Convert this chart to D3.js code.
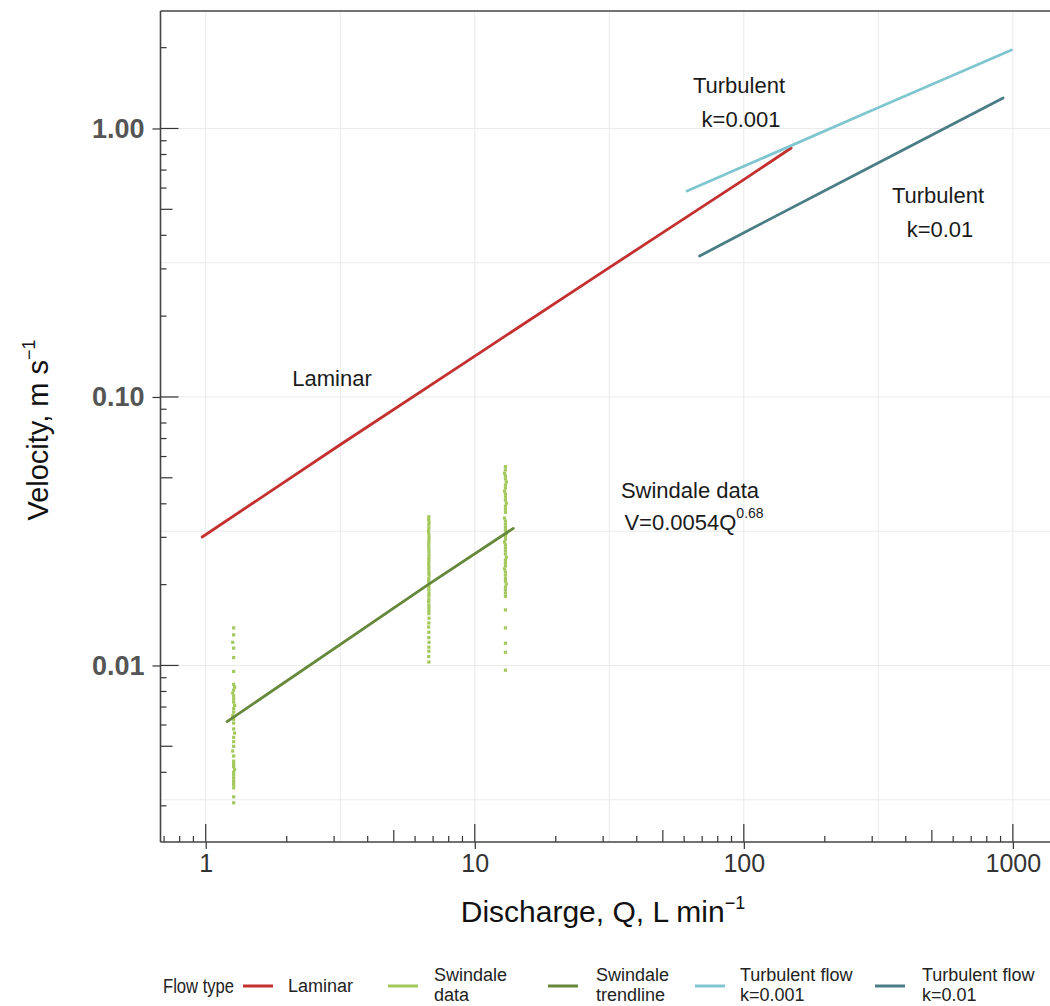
<!DOCTYPE html>
<html><head><meta charset="utf-8">
<script src="https://cdn.jsdelivr.net/npm/d3@7"></script>
<style>body{margin:0;background:#fff}svg{display:block}text{font-family:"Liberation Sans",Arial,sans-serif}</style>
</head><body><svg id="c" width="1050" height="1006"></svg>
<script>
// ---- data ----
const laminarQ = [0.97, 3.16, 10, 30, 45, 100, 150];
const laminarV = [0.0301, 0.0664, 0.142, 0.293, 0.382, 0.645, 0.846];
const turb001Q = [61.5, 100, 300, 988];
const turb001V = [0.585, 0.723, 1.17, 1.96];
const turb01Q = [68.5, 100, 300, 920];
const turb01V = [0.335, 0.409, 0.725, 1.30];
const trendQ = [1.2, 6.75, 13.9];
const trendV = [0.00618, 0.0201, 0.0324];
const swindaleQ1 = [1.27,1.27,1.26,1.27,1.27,1.27,1.27,1.28,1.27,1.26,1.27,1.27,1.27,1.28,1.27,1.27,1.26,1.27,1.27,1.27,1.28,1.27,1.27,1.27,1.26,1.27,1.27,1.27,1.27,1.28,1.27,1.27,1.27,1.27,1.27,1.27,1.27,1.27];
const swindaleV1 = [0.0138,0.0130,0.0122,0.0116,0.0107,0.0095,0.0085,0.0083,0.0081,0.0079,0.0077,0.0075,0.0073,0.0071,0.0069,0.0067,0.0065,0.0063,0.0061,0.0058,0.0056,0.0054,0.0052,0.0050,0.0048,0.0046,0.0044,0.0043,0.0042,0.0041,0.0040,0.0039,0.0038,0.0037,0.0036,0.0035,0.00324,0.00308];
const swindaleQ2 = [6.75,6.74,6.76,6.75,6.75,6.73,6.75,6.76,6.75,6.75,6.74,6.75,6.75,6.76,6.75,6.75,6.74,6.75,6.75,6.75,6.76,6.75,6.74,6.75,6.75,6.75,6.76,6.75,6.75,6.74,6.75,6.75,6.75,6.75,6.76,6.75,6.74,6.75,6.75,6.76,6.75,6.75,6.74,6.75];
const swindaleV2 = [0.0358,0.0350,0.0341,0.0333,0.0324,0.0316,0.0308,0.0300,0.0293,0.0286,0.0279,0.0272,0.0265,0.0258,0.0252,0.0246,0.0240,0.0234,0.0228,0.0222,0.0217,0.0211,0.0206,0.0201,0.0196,0.0191,0.0186,0.0182,0.0177,0.0173,0.0168,0.0164,0.0160,0.0156,0.0150,0.0144,0.0139,0.0133,0.0127,0.0122,0.0117,0.0113,0.0108,0.0103];
const swindaleQ3 = [13.0,13.0,12.9,13.0,13.0,13.1,13.0,13.0,12.9,13.0,13.0,13.0,13.1,13.0,13.0,13.0,12.9,13.0,13.0,13.0,13.0,13.1,13.0,13.0,12.9,13.0,13.0,13.0,13.0,13.1,13.0,13.0,13.0,12.9,13.0,13.0,13.0,13.0,13.1,13.0,13.0,13.0,13.0,13.0,13.0,13.0,13.0,13.0];
const swindaleV3 = [0.0550,0.0535,0.0520,0.0508,0.0495,0.0482,0.0470,0.0458,0.0446,0.0435,0.0424,0.0413,0.0402,0.0392,0.0382,0.0372,0.0354,0.0345,0.0336,0.0327,0.0319,0.0311,0.0303,0.0295,0.0288,0.0281,0.0274,0.0267,0.0260,0.0253,0.0247,0.0241,0.0235,0.0229,0.0223,0.0217,0.0211,0.0206,0.0201,0.0196,0.0191,0.0186,0.0181,0.0161,0.0138,0.0121,0.0112,0.0096];

const xMajor = [1, 10, 100, 1000];
const xMajorLabels = ["1", "10", "100", "1000"];
const xMinorGrid = [3.1623, 31.623, 316.23];
const yMajor = [1, 0.1, 0.01];
const yMajorLabels = ["1.00", "0.10", "0.01"];
const yMinorGrid = [0.31623, 0.031623, 0.0031623];
const logMultipliers = [2, 3, 4, 5, 6, 7, 8, 9];

const seriesNames = ["Laminar", "Swindale data", "Swindale trendline", "Turbulent flow k=0.001", "Turbulent flow k=0.01"];
const seriesColors = ["#c4302f", "#a3c95c", "#66883a", "#80c6d0", "#4b7d86"];

// ---- layout ----
const svg = d3.select("#c");
const L = 160.5, R = 1050.5, T = 11, B = 842;
const x = d3.scaleLog().domain([0.679, 1380]).range([L, R]);
const y = d3.scaleLog().domain([0.0022, 2.739]).range([B, T]);

const clipId = "plotclip";
svg.append("defs").append("clipPath").attr("id", clipId)
  .append("rect").attr("x", L).attr("y", T).attr("width", R - L).attr("height", B - T);

// grid
const grid = svg.append("g").attr("stroke", "#ebebeb").attr("stroke-width", 1.1);
[...xMajor, ...xMinorGrid].forEach(v => {
  grid.append("line").attr("x1", x(v)).attr("x2", x(v)).attr("y1", T).attr("y2", B);
});
[...yMajor, ...yMinorGrid].forEach(v => {
  grid.append("line").attr("y1", y(v)).attr("y2", y(v)).attr("x1", L).attr("x2", R);
});

// log ticks (inside)
const ticks = svg.append("g").attr("stroke", "#333").attr("stroke-width", 1.2);
function logTicks(dom) {
  const out = [];
  for (let e = -4; e <= 4; e++) {
    const base = Math.pow(10, e);
    out.push({v: base, len: 18});
    logMultipliers.forEach(m => out.push({v: m * base, len: m === 5 ? 12 : 6}));
  }
  return out.filter(d => d.v >= dom[0] && d.v <= dom[1]);
}
logTicks(x.domain()).forEach(d => {
  ticks.append("line").attr("x1", x(d.v)).attr("x2", x(d.v)).attr("y1", B).attr("y2", B - d.len);
});
logTicks(y.domain()).forEach(d => {
  ticks.append("line").attr("y1", y(d.v)).attr("y2", y(d.v)).attr("x1", L).attr("x2", L + d.len);
});

// axes
const xAxis = d3.axisBottom(x).tickValues(xMajor).tickSize(7).tickPadding(5)
  .tickFormat((d, i) => xMajorLabels[i]);
const gx = svg.append("g").attr("transform", `translate(0,${B})`).call(xAxis);
gx.select(".domain").remove();
gx.selectAll("line").attr("stroke", "#333").attr("stroke-width", 1.2);
gx.selectAll("text").attr("font-size", 25).attr("fill", "#333").attr("font-family", "Liberation Sans, Arial, sans-serif");

const yAxis = d3.axisLeft(y).tickValues(yMajor).tickSize(8).tickPadding(8)
  .tickFormat((d, i) => yMajorLabels[i]);
const gy = svg.append("g").attr("transform", `translate(${L},0)`).call(yAxis);
gy.select(".domain").remove();
gy.selectAll("line").attr("stroke", "#333").attr("stroke-width", 1.2);
gy.selectAll("text").attr("font-size", 27).attr("font-weight", "bold").attr("fill", "#555").attr("font-family", "Liberation Sans, Arial, sans-serif");

// frame lines
const frame = svg.append("g").attr("stroke", "#444").attr("stroke-width", 1.6);
frame.append("line").attr("x1", L).attr("x2", L).attr("y1", T).attr("y2", B);
frame.append("line").attr("x1", L).attr("x2", R).attr("y1", B).attr("y2", B);
frame.append("line").attr("x1", L).attr("x2", R).attr("y1", T).attr("y2", T);

// data
const plot = svg.append("g").attr("clip-path", `url(#${clipId})`);
const line = d3.line().x(d => x(d[0])).y(d => y(d[1]));
function drawLine(qs, vs, color) {
  plot.append("path").datum(qs.map((q, i) => [q, vs[i]]))
    .attr("d", line).attr("fill", "none").attr("stroke", color).attr("stroke-width", 2.8)
    .attr("stroke-linecap", "round").attr("stroke-linejoin", "round");
}
const sw = [...swindaleQ1.map((q, i) => [q, swindaleV1[i]]),
            ...swindaleQ2.map((q, i) => [q, swindaleV2[i]]),
            ...swindaleQ3.map((q, i) => [q, swindaleV3[i]])];
plot.append("g").selectAll("rect").data(sw).join("rect")
  .attr("x", d => x(d[0]) - 1.6).attr("y", d => y(d[1]) - 1.6)
  .attr("width", 3.2).attr("height", 3.2).attr("fill", seriesColors[1]);
drawLine(trendQ, trendV, seriesColors[2]);
drawLine(laminarQ, laminarV, seriesColors[0]);
drawLine(turb001Q, turb001V, seriesColors[3]);
drawLine(turb01Q, turb01V, seriesColors[4]);

// annotations
const ann = svg.append("g").attr("font-size", 22).attr("fill", "#1a1a1a").attr("text-anchor", "middle");
ann.append("text").attr("x", 739).attr("y", 93).text("Turbulent");
ann.append("text").attr("x", 741).attr("y", 127).text("k=0.001");
ann.append("text").attr("x", 938).attr("y", 203).text("Turbulent");
ann.append("text").attr("x", 940).attr("y", 237).text("k=0.01");
ann.append("text").attr("x", 332).attr("y", 386).text("Laminar");
ann.append("text").attr("x", 690).attr("y", 498).text("Swindale data");
const eq = ann.append("text").attr("x", 694).attr("y", 530);
eq.append("tspan").text("V=0.0054Q");
eq.append("tspan").attr("dy", -12).attr("font-size", 14).text("0.68");

// axis titles
const xt = svg.append("text").attr("x", 603).attr("y", 922).attr("text-anchor", "middle")
  .attr("font-size", 30).attr("fill", "#111");
xt.append("tspan").text("Discharge, Q, L min");
xt.append("tspan").attr("dy", -13).attr("font-size", 18).text("\u22121");

const yt = svg.append("text").attr("transform", "translate(48,430) rotate(-90)").attr("text-anchor", "middle")
  .attr("font-size", 29).attr("fill", "#111");
yt.append("tspan").text("Velocity, m s");
yt.append("tspan").attr("dy", -13).attr("font-size", 18).text("\u22121");

// legend
const lg = svg.append("g").attr("font-size", 18).attr("fill", "#222");
lg.append("text").attr("x", 163).attr("y", 993).attr("font-size", 21)
  .attr("textLength", 71).attr("lengthAdjust", "spacingAndGlyphs").text("Flow type");
const legendItems = [
  {key: 243, tx: 288, lines: ["Laminar"]},
  {key: 388, tx: 434, lines: ["Swindale", "data"]},
  {key: 548, tx: 596, lines: ["Swindale", "trendline"]},
  {key: 695, tx: 740, lines: ["Turbulent flow", "k=0.001"]},
  {key: 875, tx: 922, lines: ["Turbulent flow", "k=0.01"]},
];
legendItems.forEach((it, i) => {
  lg.append("line").attr("x1", it.key).attr("x2", it.key + 30).attr("y1", 986).attr("y2", 986)
    .attr("stroke", seriesColors[i]).attr("stroke-width", 3);
  if (it.lines.length === 1) {
    lg.append("text").attr("x", it.tx).attr("y", 992).text(it.lines[0]);
  } else {
    lg.append("text").attr("x", it.tx).attr("y", 981).text(it.lines[0]);
    lg.append("text").attr("x", it.tx).attr("y", 1001).text(it.lines[1]);
  }
});
</script></body></html>
